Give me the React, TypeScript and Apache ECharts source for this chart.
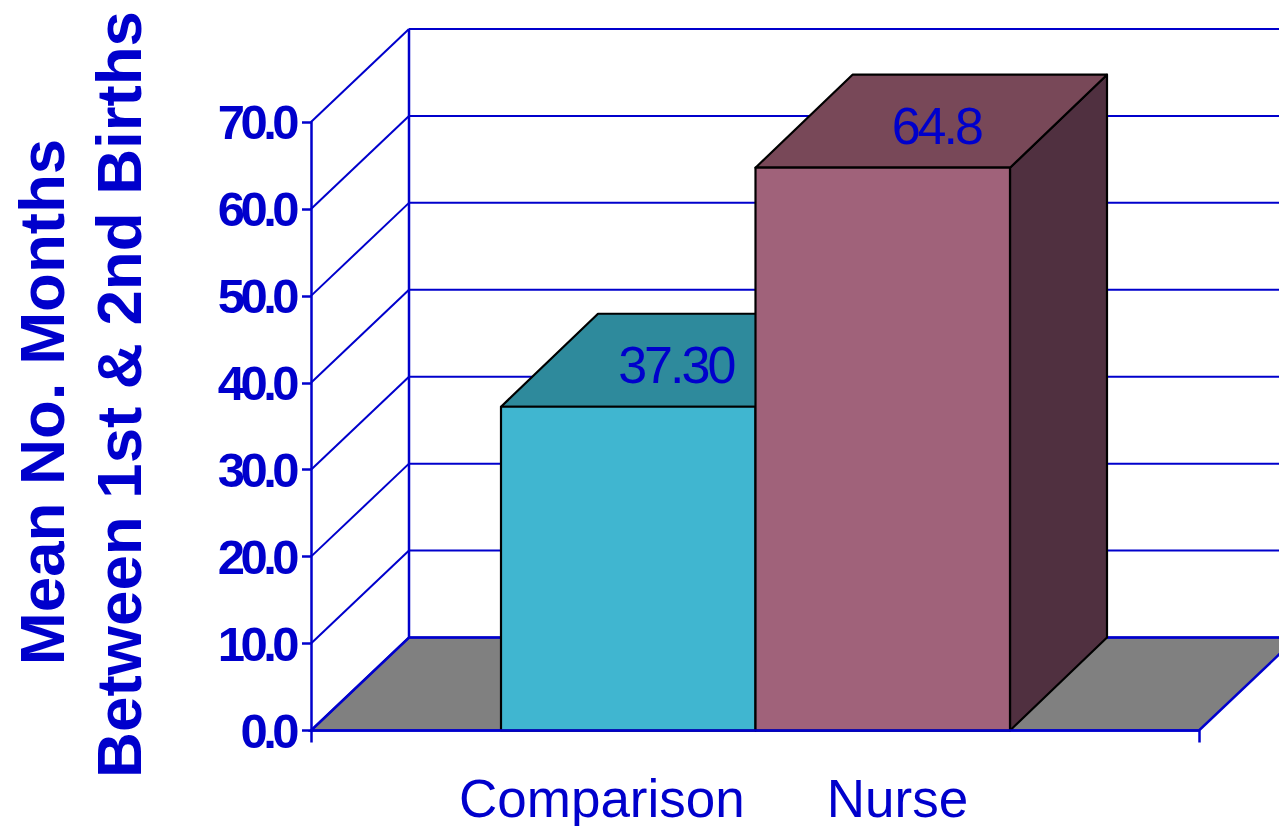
import React, { useEffect, useRef } from "react";
import * as echarts from "echarts";

const groupLabel = [""];
const seriesNames = ["Comparison", "Nurse"];
const comparisonValues = [37.3];
const nurseValues = [64.8];
const valueLabels = ["37.30", "64.8"];
const yTicks = [0, 10, 20, 30, 40, 50, 60, 70];
const titleLines = ["Mean No. Months", "Between 1st & 2nd Births"];

const BLUE = "#0000CC";
const DEPTH_X = 98;
const DEPTH_Y = 93;
const BAR_DEPTH_X = 97;
const BAR_SHARE = 0.2866;
const LABEL_SHIFT = [
  [-1, 5],
  [5, 5],
];
const FONT = '"Liberation Sans", Arial, sans-serif';
const faces = [
  { front: "#40B6D0", top: "#2E8A9C", side: "#2E8A9C" },
  { front: "#A0627A", top: "#784858", side: "#503040" },
];

function renderWall(params: any, api: any) {
  const cs = params.coordSys;
  const v = api.value(1);
  const y = api.coord([0, v])[1];
  const left = cs.x;
  const right = cs.x + cs.width;
  const backX = left + DEPTH_X;
  const backY = y - DEPTH_Y;
  const line = { stroke: BLUE, lineWidth: 2, fill: "none" };
  const children: any[] = [];
  if (v === 0) {
    children.push({
      type: "polygon",
      shape: { points: [[left, y], [backX, backY], [right + DEPTH_X, backY], [right, y]] },
      style: { fill: "#808080", stroke: BLUE, lineWidth: 2.5 },
    });
    children.push({
      type: "line",
      shape: { x1: backX, y1: backY, x2: backX, y2: backY - cs.height },
      style: { stroke: BLUE, lineWidth: 2.5 },
    });
  }
  children.push({ type: "line", shape: { x1: left, y1: y, x2: backX, y2: backY }, style: line });
  children.push({ type: "line", shape: { x1: backX, y1: backY, x2: right + DEPTH_X, y2: backY }, style: line });
  return { type: "group", children };
}

function renderCube(params: any, api: any) {
  const idx = params.seriesIndex - 1;
  const c = api.coord([api.value(0), 0]);
  const t = api.coord([api.value(0), api.value(1)]);
  const w = api.size([1, 0])[0] * BAR_SHARE;
  const x0 = c[0] + (idx - 1) * w + 0.5;
  const x1 = x0 + w;
  const yT = t[1] + 0.5;
  const yB = c[1];
  const edge = { stroke: "#000000", lineWidth: 2.2, lineJoin: "round" };
  const f = faces[idx];
  return {
    type: "group",
    children: [
      {
        type: "polygon",
        shape: { points: [[x1, yT], [x1 + BAR_DEPTH_X, yT - DEPTH_Y], [x1 + BAR_DEPTH_X, yB - DEPTH_Y], [x1, yB]] },
        style: { fill: f.side, ...edge },
      },
      {
        type: "polygon",
        shape: { points: [[x0, yT], [x0 + BAR_DEPTH_X, yT - DEPTH_Y], [x1 + BAR_DEPTH_X, yT - DEPTH_Y], [x1, yT]] },
        style: { fill: f.top, ...edge },
      },
      {
        type: "rect",
        shape: { x: x0, y: yT, width: w, height: yB - yT },
        style: { fill: f.front, ...edge },
      },
      {
        type: "text",
        style: {
          text: valueLabels[idx],
          x: (x0 + x1) / 2 + BAR_DEPTH_X / 2 + LABEL_SHIFT[idx][0],
          y: yT - DEPTH_Y / 2 + LABEL_SHIFT[idx][1],
          fill: BLUE,
          font: `52px ${FONT}`,
          align: "center",
          verticalAlign: "middle",
        },
      },
    ],
  };
}

export default function App() {
  const ref = useRef<HTMLDivElement>(null);
  useEffect(() => {
    const chart = echarts.init(ref.current!, null, { renderer: "svg" });
    chart.setOption({
      animation: false,
      backgroundColor: "#ffffff",
      grid: { left: 311, top: 122, width: 888, height: 608.5, containLabel: false },
      xAxis: {
        type: "category",
        data: groupLabel,
        z: 5,
        axisLine: { lineStyle: { color: BLUE, width: 2.5 } },
        axisTick: { show: true, length: 12, alignWithLabel: false, lineStyle: { color: BLUE, width: 2.5 } },
        axisLabel: { show: false },
      },
      yAxis: {
        type: "value",
        min: 0,
        max: 70,
        interval: 10,
        z: 5,
        splitLine: { show: false },
        axisLine: { show: true, lineStyle: { color: BLUE, width: 2.5 } },
        axisTick: { show: true, length: 9, lineStyle: { color: BLUE, width: 2.5 } },
        axisLabel: {
          margin: 16,
          color: BLUE,
          fontFamily: FONT,
          fontWeight: "bold",
          fontSize: 49,
          formatter: (v: number) => v.toFixed(1),
        },
      },
      legend: {
        data: seriesNames,
        left: 449,
        top: 767,
        icon: "rect",
        itemWidth: 0,
        itemHeight: 0,
        itemGap: 77,
        selectedMode: false,
        textStyle: { color: BLUE, fontFamily: FONT, fontSize: 53 },
      },
      graphic: [
        {
          type: "text",
          x: 41.5,
          y: 402,
          rotation: Math.PI / 2,
          style: { text: titleLines[0], fill: BLUE, font: `bold 63.6px ${FONT}`, align: "center", verticalAlign: "middle" },
        },
        {
          type: "text",
          x: 118.5,
          y: 394.5,
          rotation: Math.PI / 2,
          style: { text: titleLines[1], fill: BLUE, font: `bold 63.6px ${FONT}`, align: "center", verticalAlign: "middle" },
        },
      ],
      series: [
        {
          type: "custom",
          name: "Walls",
          renderItem: renderWall,
          encode: { x: 0, y: 1 },
          data: yTicks.map((v) => [0, v]),
          z: 1,
          silent: true,
        },
        {
          type: "custom",
          name: seriesNames[0],
          renderItem: renderCube,
          encode: { x: 0, y: 1 },
          data: comparisonValues.map((v) => [0, v]),
          itemStyle: { color: faces[0].front },
          z: 2,
        },
        {
          type: "custom",
          name: seriesNames[1],
          renderItem: renderCube,
          encode: { x: 0, y: 1 },
          data: nurseValues.map((v) => [0, v]),
          itemStyle: { color: faces[1].front },
          z: 3,
        },
      ],
    });
    return () => chart.dispose();
  }, []);
  return (
    <>
      <style>{`
        html, body { margin: 0; padding: 0; background: #fff; overflow: hidden; }
        text[style*="49px"] { letter-spacing: -4.5px; }
        text[style*="52px"] { letter-spacing: -3px; }
      `}</style>
      <div ref={ref} style={{ width: 1279, height: 826 }} />
    </>
  );
}
